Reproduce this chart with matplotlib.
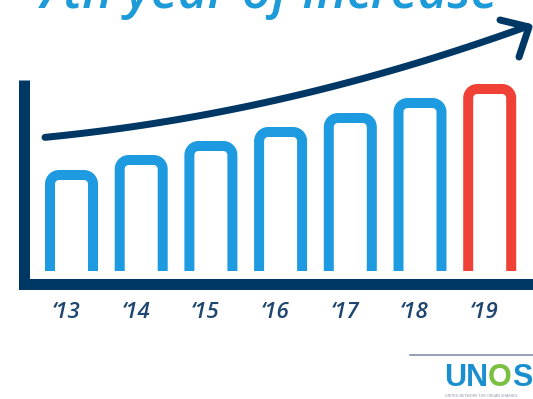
import matplotlib
matplotlib.use('Agg')
import matplotlib.pyplot as plt
import numpy as np

plt.rcParams['font.family'] = ['Open Sans', 'DejaVu Sans']

# ===== data =====
years = ["\u201813", "\u201814", "\u201815", "\u201816", "\u201817", "\u201818", "\u201819"]
values = [101, 116, 130, 144, 158, 173, 187]
bar_colors = ["#1e9be0"] * 6 + ["#ef4136"]
title = "7th year of increase"

NAVY = "#003865"
W, H = 533, 399
PX = 69.7          # pixels per bar slot
PT = 72 / 100      # pixel -> points

fig = plt.figure(figsize=(W / 100, H / 100), dpi=100)

# data axes: x = bar index, y = height in px above bar base
ax = fig.add_axes([0, (H - 290) / H, 1, 290 / H])
ax.set_xlim(-71.5 / PX, (W - 71.5) / PX)
ax.set_ylim(-19, 271)
ax.axis('off')

stroke = 10
hw = (53 - stroke) / 2 / PX
r = 9
for i, (v, c) in enumerate(zip(values, bar_colors)):
    hc = v - stroke / 2
    t = np.linspace(np.pi, np.pi / 2, 12)
    lx = i - hw + r / PX + (r / PX) * np.cos(t)
    ly = hc - r + r * np.sin(t)
    t2 = np.linspace(np.pi / 2, 0, 12)
    rx = i + hw - r / PX + (r / PX) * np.cos(t2)
    ry = hc - r + r * np.sin(t2)
    xs = np.concatenate([[i - hw], lx, rx, [i + hw]])
    ys = np.concatenate([[0], ly, ry, [0]])
    ax.plot(xs, ys, color=c, lw=stroke * PT, solid_capstyle='butt',
            solid_joinstyle='round')

for i, lab in enumerate(years):
    ax.text(i - 0.08, -42, lab, ha='center', va='center', fontsize=16,
            style='italic', fontweight='semibold', color="#1f4670")

# overlay in pixel coordinates for decorations
ov = fig.add_axes([0, 0, 1, 1])
ov.set_xlim(0, W)
ov.set_ylim(H, 0)
ov.axis('off')
ov.patch.set_visible(False)

# axis frame
ov.plot([23.5, 23.5, W + 5], [80, 284, 284], color=NAVY, lw=11 * PT,
        solid_joinstyle='miter', solid_capstyle='butt')

# trend arrow
gx = [45, 153, 300, 400, 467, 513, 529]
gy = [138, 122, 96, 68, 47, 30, 27]
coef = np.polyfit(gx, gy, 2)
cx = np.linspace(45, 527, 100)
ov.plot(cx, np.polyval(coef, cx), color=NAVY, lw=7 * PT, solid_capstyle='round')
ov.plot([500, 529, 519], [20, 27, 57], color=NAVY, lw=7 * PT,
        solid_capstyle='round', solid_joinstyle='round')

# title (cut off at top, as in the source)
ov.text(35, 8, title, ha='left', va='baseline', fontsize=37, style='italic',
        fontweight='semibold', color="#1d9ad8")

# logo
ov.plot([410, W], [355, 355], color="#7d8ca6", lw=1.6 * PT)
fig.canvas.draw()
x0 = 444
for part, col in [("UN", "#1a8fd0"), ("O", "#7ac143"), ("S", "#1a8fd0")]:
    t = ov.text(x0, 386, part, ha='left', va='baseline', fontsize=22,
                fontweight='bold', color=col, family='Liberation Sans')
    bb = t.get_window_extent(fig.canvas.get_renderer())
    x0 += bb.width * 1.0
ov.text(445, 396, "UNITED NETWORK FOR ORGAN SHARING", ha='left', va='center',
        fontsize=2.5, color="#8a96a8", family='DejaVu Sans')

fig.savefig("out.png", dpi=100)
